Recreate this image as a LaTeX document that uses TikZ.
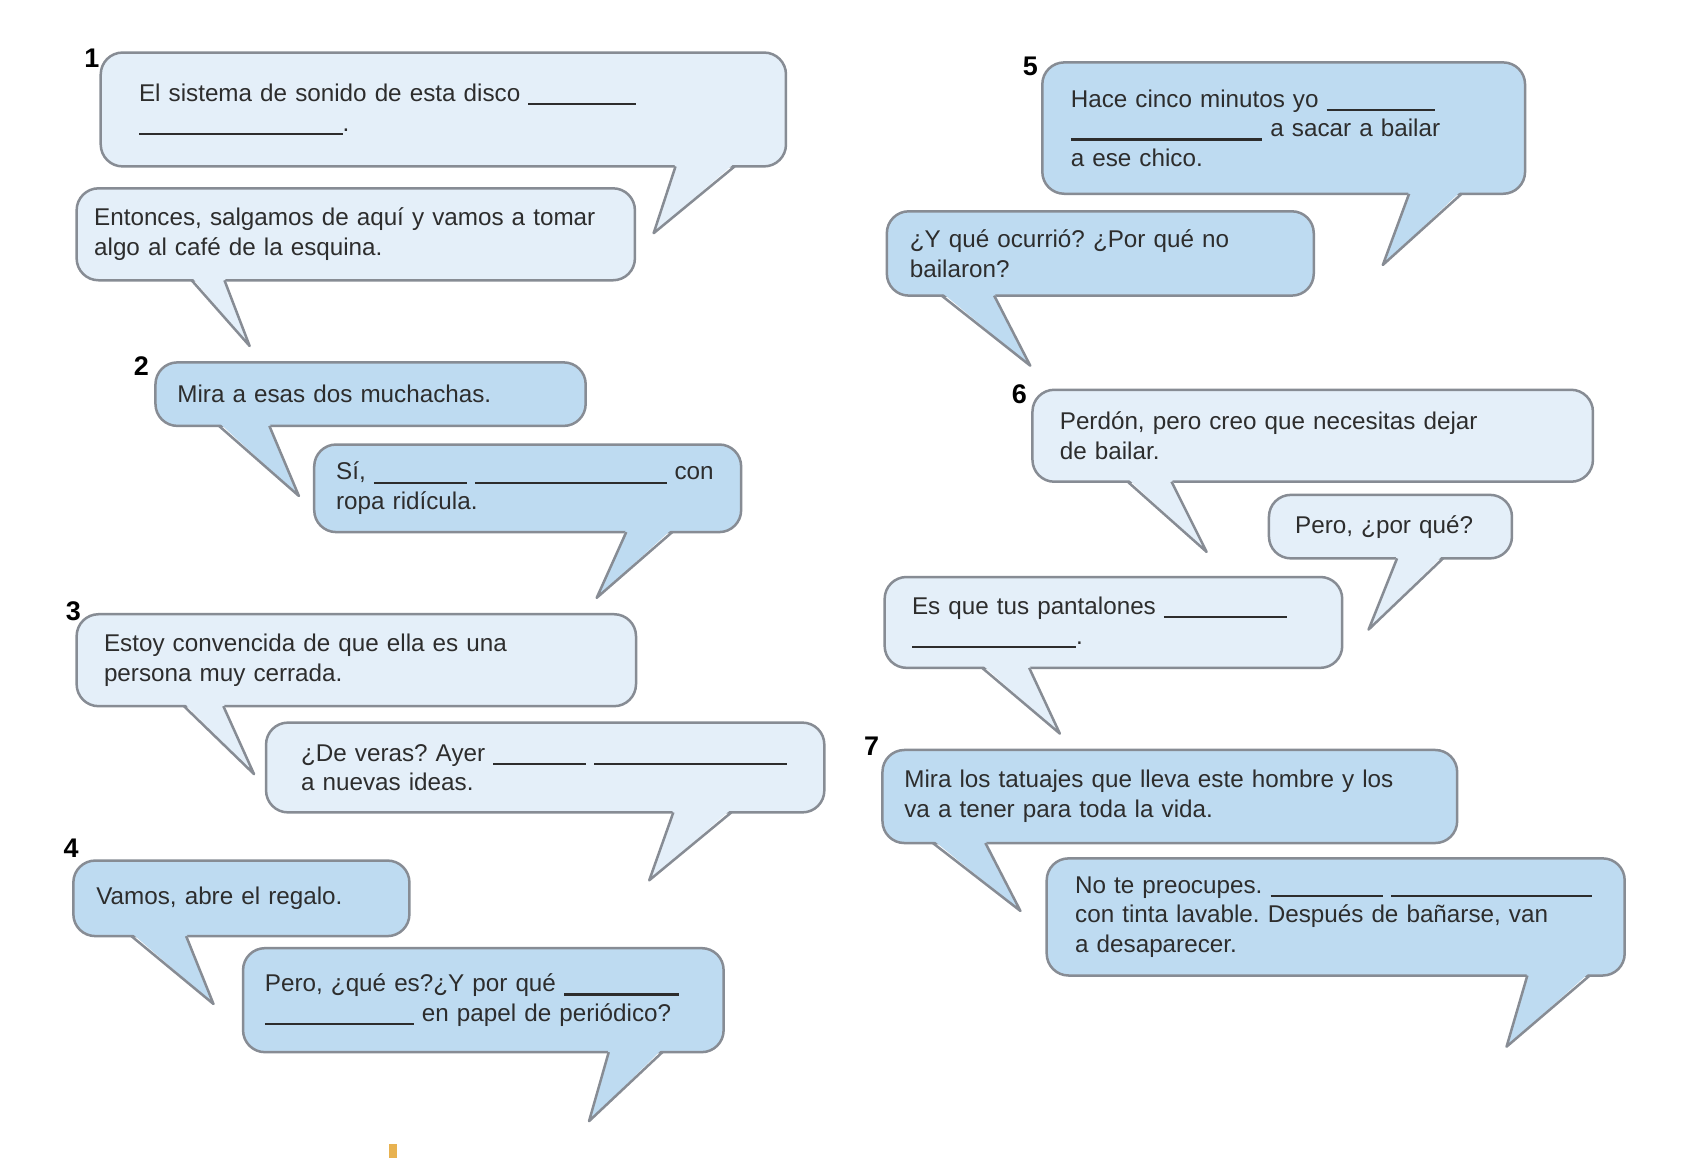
\documentclass[tikz,border=0pt]{standalone}
\usepackage{fontspec}
\setmainfont{Liberation Sans}
\usepackage{tikz}
\usetikzlibrary{calc}
\definecolor{pale}{RGB}{228,239,249}
\definecolor{sky}{RGB}{190,219,241}
\definecolor{rim}{RGB}{135,140,148}
\definecolor{ink}{RGB}{45,45,45}
\definecolor{spark}{RGB}{232,178,80}
\setlength{\unitlength}{0.2mm}
\newcommand{\gap}[1]{\rule[-2pt]{#1\unitlength}{1.1pt}}
\frenchspacing

\begin{document}
\begin{tikzpicture}[x=0.02cm,y=-0.02cm,
        bub/.style={draw=rim,line width=1.3pt,rounded corners=0.4cm,anchor=north west,outer sep=0pt,
            inner ysep=0pt,align=left,text=ink,font=\fontsize{12.6pt}{15.4pt}\selectfont},
        num/.style={font=\fontsize{14pt}{16pt}\selectfont\bfseries,inner sep=0pt}]
    \fill[white] (0,0) rectangle (1560,1057.7);
    \useasboundingbox (0,0) rectangle (1560,1057.7);

    % left column
    \node[num] (n1) at (84,53) {1};
    \node[bub,fill=pale,minimum width=12.52cm,minimum height=2.08cm,inner xsep=0.70cm,text width=11.12cm] (d1a) at (92,48)
        {El sistema de sonido de esta disco \gap{98}\\\gap{186}.};
    \node[bub,fill=pale,minimum width=10.2cm,minimum height=1.68cm,inner xsep=0.32cm,text width=9.56cm] (d1b) at (70,172)
        {Entonces, salgamos de aquí y vamos a tomar\\algo al café de la esquina.};
    \node[num] (n2) at (129,334) {2};
    \node[bub,fill=sky,minimum width=7.86cm,minimum height=1.16cm,inner xsep=0.40cm,text width=7.06cm] (d2a) at (142,331)
        {Mira a esas dos muchachas.};
    \node[bub,fill=sky,minimum width=7.8cm,minimum height=1.6cm,inner xsep=0.40cm,text width=7.0cm] (d2b) at (287,406)
        {Sí, \gap{85} \gap{175} con\\ropa ridícula.};
    \node[num] (n3) at (67,558) {3};
    \node[bub,fill=pale,minimum width=10.22cm,minimum height=1.68cm,inner xsep=0.50cm,text width=9.22cm] (d3a) at (70,561)
        {Estoy convencida de que ella es una\\persona muy cerrada.};
    \node[bub,fill=pale,minimum width=10.2cm,minimum height=1.64cm,inner xsep=0.64cm,text width=8.92cm] (d3b) at (243,660)
        {¿De veras? Ayer \gap{85} \gap{176}\\a nuevas ideas.};
    \node[num] (n4) at (65,775) {4};
    \node[bub,fill=sky,minimum width=6.14cm,minimum height=1.38cm,inner xsep=0.42cm,text width=5.30cm] (d4a) at (67,786)
        {Vamos, abre el regalo.};
    \node[bub,fill=sky,minimum width=8.78cm,minimum height=1.9cm,inner xsep=0.40cm,text width=7.98cm] (d4b) at (222,866)
        {Pero, ¿qué es?¿Y por qué \gap{105}\\\gap{136} en papel de periódico?};

    % right column
    \node[num] (n5) at (941,61) {5};
    \node[bub,fill=sky,minimum width=8.82cm,minimum height=2.4cm,inner xsep=0.52cm,text width=7.78cm] (d5a) at (952,57)
        {Hace cinco minutos yo \gap{99}\\\gap{175} a sacar a bailar\\a ese chico.};
    \node[bub,fill=sky,minimum width=7.8cm,minimum height=1.54cm,inner xsep=0.42cm,text width=6.96cm] (d5b) at (810,193)
        {¿Y qué ocurrió? ¿Por qué no\\bailaron?};
    \node[num] (n6) at (931,360) {6};
    \node[bub,fill=pale,minimum width=10.24cm,minimum height=1.68cm,inner xsep=0.50cm,text width=9.24cm] (d6a) at (943,356)
        {Perdón, pero creo que necesitas dejar\\de bailar.};
    \node[bub,fill=pale,minimum width=4.44cm,minimum height=1.16cm,inner xsep=0.48cm,text width=3.48cm] (d6b) at (1159,452)
        {Pero, ¿por qué?};
    \node[bub,fill=pale,minimum width=8.36cm,minimum height=1.66cm,inner xsep=0.50cm,text width=7.36cm] (d6c) at (808,527)
        {Es que tus pantalones \gap{112}\\\gap{150}.};
    \node[num] (n7) at (796,682) {7};
    \node[bub,fill=sky,minimum width=10.5cm,minimum height=1.7cm,inner xsep=0.40cm,text width=9.70cm] (d7a) at (806,685)
        {Mira los tatuajes que lleva este hombre y los\\va a tener para toda la vida.};
    \node[bub,fill=sky,minimum width=10.56cm,minimum height=2.14cm,inner xsep=0.52cm,text width=9.52cm] (d7b) at (956,784)
        {No te preocupes. \gap{103} \gap{183}\\con tinta lavable. Después de bañarse, van\\a desaparecer.};

    % tail tips
    \coordinate (d1a-tip) at (597,213);
    \coordinate (d1b-tip) at (228,316);
    \coordinate (d2a-tip) at (273,453);
    \coordinate (d2b-tip) at (545,546);
    \coordinate (d3a-tip) at (232,707);
    \coordinate (d3b-tip) at (593,804);
    \coordinate (d4a-tip) at (195,917);
    \coordinate (d4b-tip) at (538,1024);
    \coordinate (d5a-tip) at (1263,242);
    \coordinate (d5b-tip) at (941,334);
    \coordinate (d6a-tip) at (1102,504);
    \coordinate (d6b-tip) at (1250,575);
    \coordinate (d6c-tip) at (968,670);
    \coordinate (d7a-tip) at (932,832);
    \coordinate (d7b-tip) at (1376,956);

    \foreach \nm/\fl/\p/\q in {d1a/pale/525/579, d1b/pale/105/135, d2a/sky/58/104, d2b/sky/285/327,
            d3a/pale/98/134, d3b/pale/372/425, d4a/sky/53/103, d4b/sky/334/383,
            d5a/sky/335/383, d5b/sky/50/98, d6a/pale/87/127, d6b/pale/117/159,
            d6c/pale/89/132, d7a/sky/46/94, d7b/sky/439/496} {
        \fill[\fl] ($(\nm.south west)+(\p,-3)$) -- (\nm-tip) -- ($(\nm.south west)+(\q,-3)$) -- cycle;
        \draw[rim,line width=1.3pt,line join=round] ($(\nm.south west)+(\p,0)$) -- (\nm-tip) -- ($(\nm.south west)+(\q,0)$);
    }

    % bit of the next picture
    \fill[spark] (355,1045) rectangle (363,1057.7);
\end{tikzpicture}
\end{document}
